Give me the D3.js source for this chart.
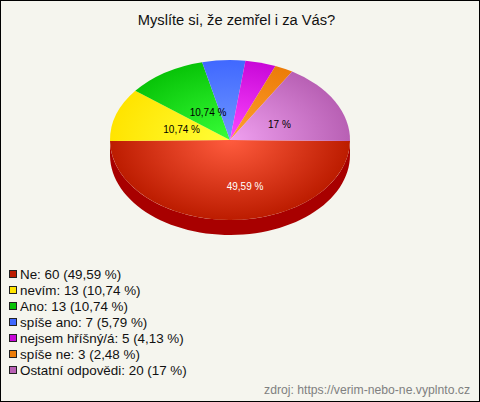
<!DOCTYPE html>
<html>
<head>
<meta charset="utf-8">
<script src="https://cdn.jsdelivr.net/npm/d3@7"></script>
<style>
html, body { margin: 0; padding: 0; background: #f5f5ee; }
svg { display: block; }
text { font-family: "Liberation Sans", Arial, sans-serif; }
</style>
</head>
<body>
<div id="plot"></div>
<script>
// Chart data
const title = "Myslíte si, že zemřel i za Vás?";
const source = "zdroj: https://verim-nebo-ne.vyplnto.cz";
const categories = ["Ne", "nevím", "Ano", "spíše ano", "nejsem hříšný/á", "spíše ne", "Ostatní odpovědi"];
const counts = [60, 13, 13, 7, 5, 3, 20];
const percents = ["49,59", "10,74", "10,74", "5,79", "4,13", "2,48", "17"];
const lightColors = ["#ff5c3e", "#ffff38", "#38ff38", "#7098ff", "#ff48ff", "#ffa030", "#f0a0f0"];
const darkColors = ["#bc1c00", "#ffe400", "#08c408", "#4068ff", "#c808d8", "#ec7c08", "#b860b4"];
const sideColors = ["#a80000", "#b09000"];

const width = 480;
const height = 402;
const cx = 230;
const cy = 140;
const rx = 120;
const ry = 80;
const depth = 15;
const rotation = 0.7 * Math.PI / 180;

const svg = d3.select("#plot")
     .append("svg")
     .attr("width", width)
     .attr("height", height);

svg.append("rect")
     .attr("x", 0.5)
     .attr("y", 0.5)
     .attr("width", width - 1)
     .attr("height", height - 1)
     .attr("fill", "#f5f5ee")
     .attr("stroke", "#000");

svg.append("text")
     .attr("x", 236.5)
     .attr("y", 25)
     .attr("text-anchor", "middle")
     .attr("font-size", 14.7)
     .attr("fill", "#111")
     .text(title);

// Slices start at 3 o'clock and go clockwise
const pie = d3.pie().sort(null)
     .startAngle(Math.PI / 2 + rotation)
     .endAngle(Math.PI * 2.5 + rotation);
const arcs = pie(counts);
const arc = d3.arc().innerRadius(0).outerRadius(rx);

// One radial gradient per slice, brightest in the middle of the pie
const defs = svg.append("defs");
categories.forEach(function(c, i) {
     const grad = defs.append("radialGradient")
          .attr("id", "slice" + i)
          .attr("gradientUnits", "userSpaceOnUse")
          .attr("cx", 0)
          .attr("cy", 0)
          .attr("r", rx);
     grad.append("stop").attr("offset", "0%").attr("stop-color", lightColors[i]);
     grad.append("stop").attr("offset", "100%").attr("stop-color", darkColors[i]);
});

const pieGroup = svg.append("g")
     .attr("transform", "translate(" + cx + "," + cy + ")");

// Side wall, drawn for the whole front half so the rotation leaves no gap
const wall = d3.area()
     .x(function(a) { return rx * Math.sin(a); })
     .y0(function(a) { return -ry * Math.cos(a); })
     .y1(function(a) { return -ry * Math.cos(a) + depth; });

arcs.forEach(function(d, i) {
     const from = i === 0 ? Math.PI / 2 : Math.max(d.startAngle, Math.PI / 2);
     const to = Math.min(d.endAngle, Math.PI * 1.5);
     if (to <= from) return;
     pieGroup.append("path")
          .attr("d", wall(d3.range(0, 61).map(function(k) { return from + (to - from) * k / 60; })))
          .attr("fill", sideColors[i]);
});

// Top of the pie, a circle squashed into an ellipse
pieGroup.append("g")
     .attr("transform", "scale(1," + (ry / rx) + ")")
     .selectAll("path")
     .data(arcs)
     .enter()
     .append("path")
     .attr("d", arc)
     .attr("fill", function(d, i) { return "url(#slice" + i + ")"; });

// Labels for the bigger slices, pushed off the slice centroid like the original
const labelShift = {
     0: {r: 70, dx: 15, dy: 0},
     1: {r: 51, dx: 0, dy: 0},
     2: {r: 48, dx: 4, dy: -1},
     6: {r: 52, dx: 4, dy: 1}
};
Object.keys(labelShift).forEach(function(key) {
     const s = labelShift[key];
     const d = arcs[key];
     const mid = (d.startAngle + d.endAngle) / 2;
     pieGroup.append("text")
          .attr("x", s.r * Math.sin(mid) + s.dx)
          .attr("y", -s.r * Math.cos(mid) * ry / rx + s.dy)
          .attr("dy", "0.35em")
          .attr("text-anchor", "middle")
          .attr("font-size", 10)
          .attr("fill", +key === 0 ? "#fff" : "#000")
          .text(percents[key] + " %");
});

// Legend
const rowY = d3.scalePoint()
     .domain(categories)
     .range([273.5, 369.5]);

const legend = svg.append("g");

legend.selectAll("rect")
     .data(categories)
     .enter()
     .append("rect")
     .attr("x", 9.5)
     .attr("y", function(c) { return rowY(c) - 3; })
     .attr("width", 7)
     .attr("height", 7)
     .attr("fill", function(c, i) { return darkColors[i]; })
     .attr("stroke", "#222");

legend.selectAll("text")
     .data(categories)
     .enter()
     .append("text")
     .attr("x", 20)
     .attr("y", function(c) { return rowY(c) + 5; })
     .attr("font-size", 13.4)
     .attr("fill", "#111")
     .text(function(c, i) { return c + ": " + counts[i] + " (" + percents[i] + " %)"; });

svg.append("text")
     .attr("x", 470)
     .attr("y", 394)
     .attr("text-anchor", "end")
     .attr("font-size", 12.2)
     .attr("fill", "#808080")
     .text(source);
</script>
</body>
</html>
